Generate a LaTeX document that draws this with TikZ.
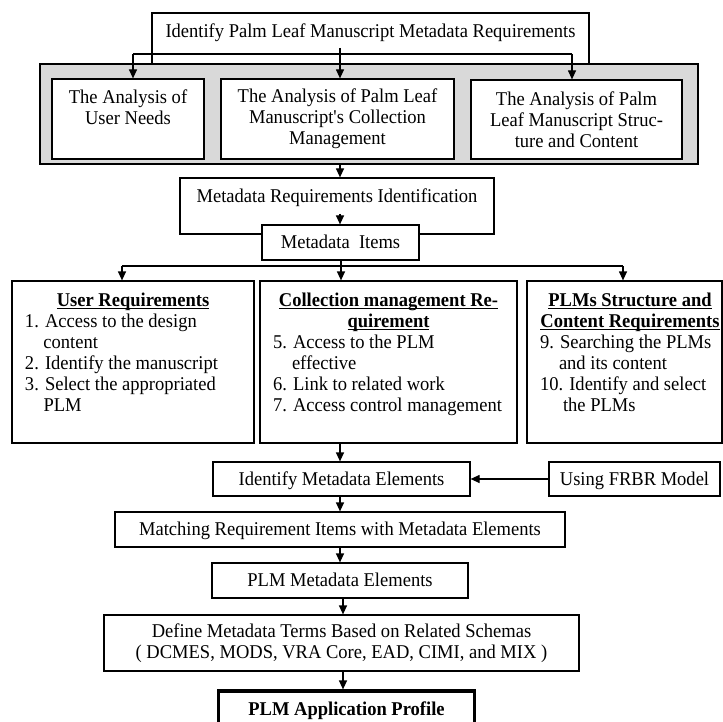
\documentclass[tikz,border=0pt]{standalone}
\usepackage{fontspec}
\setmainfont{Liberation Serif}[FakeStretch=0.95]
\usetikzlibrary{arrows.meta}
\definecolor{panelgray}{gray}{0.85}
\newsavebox\hdbox
\newcommand\ulhead[1]{\leavevmode\sbox\hdbox{\textbf{#1}}\rlap{\rule[-3pt]{\wd\hdbox}{1.1pt}}\usebox\hdbox}
\newcommand\topbox[4]{\parbox[c][#2][t]{#1}{\centering\vspace*{#3}#4}}
\newcommand\listbox[4]{\parbox[c][162pt][t]{#1}{\vspace*{#3}\hspace*{13pt}\begin{minipage}[t]{#2}#4\end{minipage}}}
\begin{document}
\begin{tikzpicture}[x=1pt,y=-1pt,
  font=\fontsize{19.5pt}{21pt}\selectfont,
  box/.style={draw,line width=1.2pt,fill=white,inner sep=0pt},
  onebox/.style={box,text height=15pt,text depth=3pt},
  arr/.style={line width=1.2pt,-{Triangle[length=9pt,width=8pt]}},
  ln/.style={line width=1.2pt}]
\useasboundingbox (0,0) rectangle (723,722);

% top box and panel
\node[box] (top) at (370.5,38.5) {\topbox{437pt}{51pt}{9.5pt}{\strut Identify Palm Leaf Manuscript Metadata Requirements}};
\node[draw,line width=1.2pt,fill=panelgray,inner sep=0pt,minimum width=658pt,minimum height=100pt] (panel) at (369,114) {};
\node[box] (b1) at (128,119) {\topbox{152pt}{80pt}{10pt}{\strut The Analysis of\\User Needs}};
\node[box,minimum width=233pt,minimum height=80pt,align=center] (b2) at (337.5,119) {The Analysis of Palm Leaf\\Manuscript\textquotesingle s Collection\\Management};
\node[box,minimum width=211pt,minimum height=79pt,align=center] (b3) at (576.5,119.5) {The Analysis of Palm\\Leaf Manuscript Struc-\\ture and Content};

\coordinate (t0) at (340,48);
\coordinate (hl) at (133,54);
\coordinate (hr) at (572,54);
\draw[ln] (hl) -- (hr);
\draw[arr] (hl) -- (hl |- b1.north);
\draw[arr] (hr) -- (hr |- b3.north);
\draw[arr] (t0) -- (t0 |- b2.north);

% metadata requirements identification
\node[box] (mri) at (337,206) {\topbox{314pt}{56pt}{9.6pt}{\strut Metadata Requirements Identification}};
\draw[arr] (panel.south -| t0) -- (mri.north -| t0);
\node[onebox,minimum width=157pt,minimum height=35pt] (mi) at (340.5,242.5) {Metadata\ \ Items};
\coordinate (m0) at (340,214);
\draw[arr] (m0) -- (mi.north -| m0);

% requirement boxes
\node[box] (ur) at (133,362) {\listbox{242pt}{216pt}{10.3pt}{%
  {\centering\strut\ulhead{User Requirements}\par}
  \raggedright
  1. Access to the design\\
  \hspace*{18.5pt}content\\
  2. Identify the manuscript\\
  3. Select the appropriated\\
  \hspace*{18.5pt}PLM}};
\node[box] (cm) at (388.5,362) {\listbox{257pt}{231pt}{10.3pt}{%
  {\centering\strut\ulhead{Collection management Re-}\\\ulhead{quirement}\par}
  \raggedright
  5. Access to the PLM\\
  \hspace*{19pt}effective\\
  6. Link to related work\\
  7. Access control management}};
\node[box] (pl) at (624.5,362) {\listbox{195pt}{180pt}{10.3pt}{%
  {\centering\strut\ulhead{PLMs Structure and}\\\ulhead{Content Requirements}\par}
  \raggedright
  9. Searching the PLMs\\
  \hspace*{19pt}and its content\\
  10. Identify and select\\
  \hspace*{23pt}the PLMs}};

\coordinate (sp) at (341,266);
\coordinate (sl) at (122,266);
\coordinate (sr) at (623,266);
\draw[ln] (mi.south -| sp) -- (sp);
\draw[ln] (sl) -- (sr);
\draw[arr] (sl) -- (sl |- ur.north);
\draw[arr] (sp) -- (sp |- cm.north);
\draw[arr] (sr) -- (sr |- pl.north);

% lower chain
\node[onebox,minimum width=257pt,minimum height=34pt] (ime) at (341.5,479) {Identify Metadata Elements};
\node[onebox,minimum width=171pt,minimum height=34pt] (frbr) at (634.5,479) {Using FRBR Model};
\node[onebox,minimum width=450pt,minimum height=35pt] (match) at (340,529.5) {Matching Requirement Items with Metadata Elements};
\node[onebox,minimum width=256pt,minimum height=35pt] (plme) at (340,580.5) {PLM Metadata Elements};
\node[box,minimum width=475pt,minimum height=56pt,align=center] (def) at (341.5,643) {Define Metadata Terms Based on Related Schemas\\( DCMES, MODS, VRA Core, EAD, CIMI, and MIX )};
\node[onebox,line width=3.2pt,minimum width=256pt,minimum height=36pt] (prof) at (346.5,709) {\textbf{PLM Application Profile}};

\coordinate (sx) at (340,0);
\coordinate (sy) at (343,0);
\draw[arr] (cm.south -| sx) -- (ime.north -| sx);
\draw[arr] (frbr.west) -- (ime.east);
\draw[arr] (ime.south -| sx) -- (match.north -| sx);
\draw[arr] (match.south -| sx) -- (plme.north -| sx);
\draw[arr] (plme.south -| sy) -- (def.north -| sy);
\draw[arr] (def.south -| sy) -- (prof.north -| sy);
\end{tikzpicture}
\end{document}
